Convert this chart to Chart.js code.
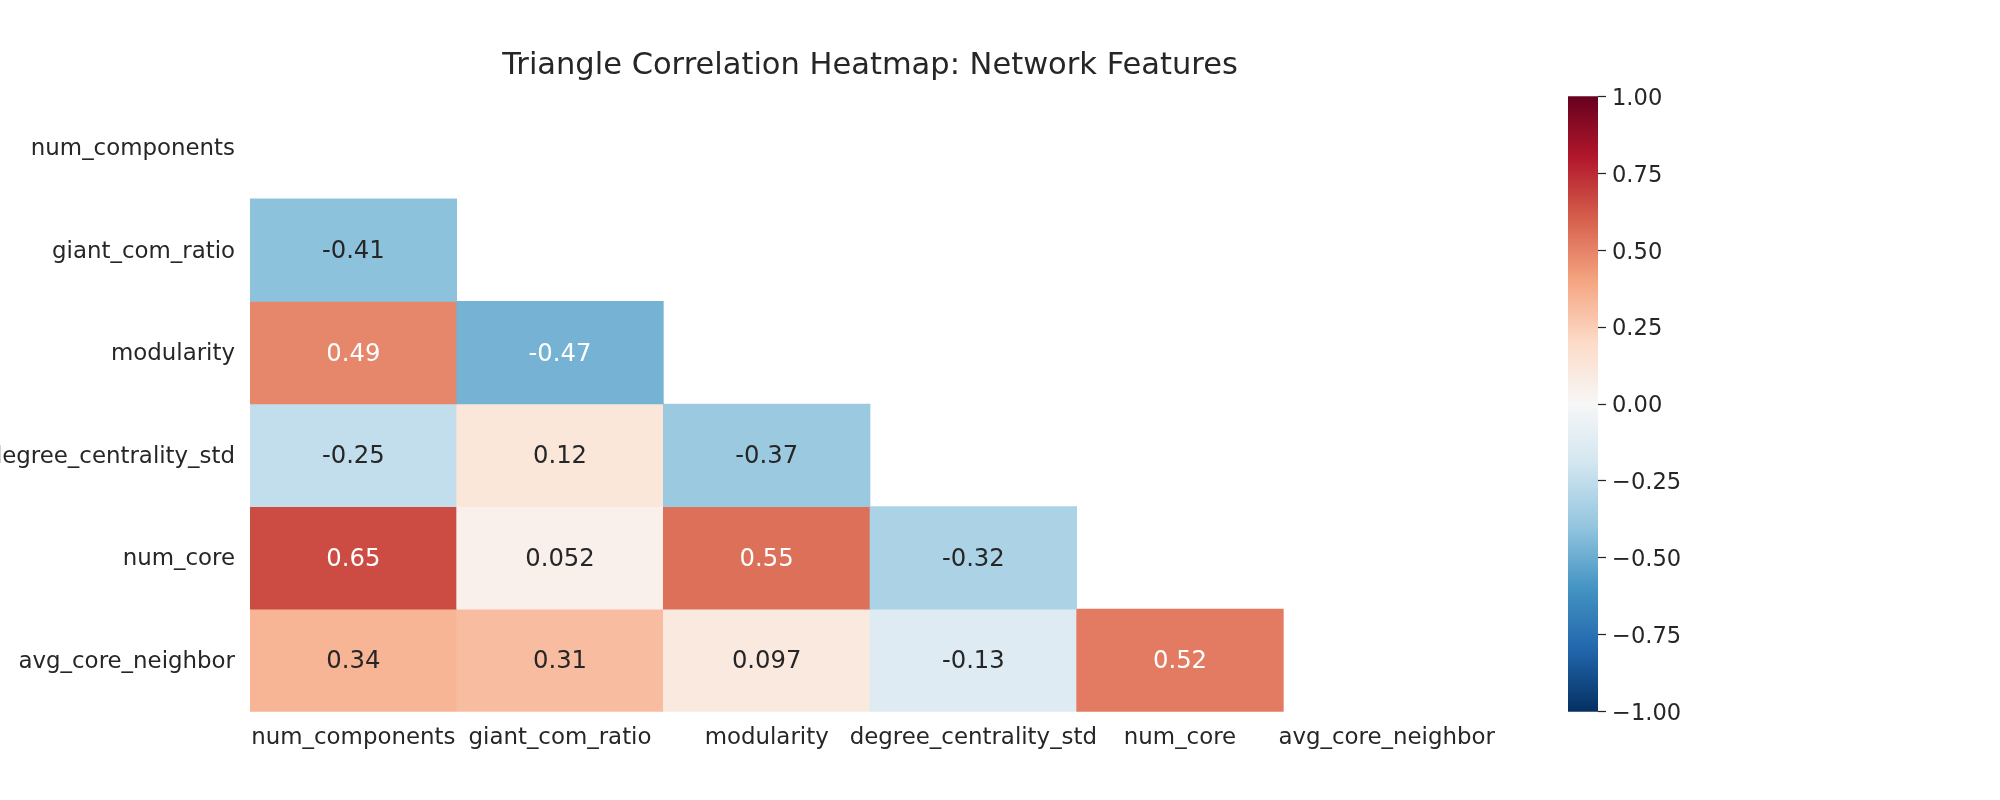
<!DOCTYPE html>
<html>
<head>
<meta charset="utf-8">
<script src="https://cdn.jsdelivr.net/npm/chart.js@4.4.1/dist/chart.umd.min.js"></script>
<style>
  body { margin: 0; background: #fff; }
  #wrap { position: relative; width: 2000px; height: 800px; }
  #heat { position: absolute; left: 0; top: 0; }
  #cbar { position: absolute; left: 1500px; top: 0; }
</style>
</head>
<body>
<div id="wrap">
  <canvas id="heat" width="2000" height="800"></canvas>
  <canvas id="cbar" width="300" height="800"></canvas>
</div>
<script>
// features, in the order of both axes
const features = ['num_components', 'giant_com_ratio', 'modularity', 'degree_centrality_std', 'num_core', 'avg_core_neighbor'];

// lower triangle of the correlation matrix, one row per feature
const rowNumComponents = [];
const rowGiantComRatio = [-0.41];
const rowModularity = [0.49, -0.47];
const rowDegreeCentralityStd = [-0.25, 0.12, -0.37];
const rowNumCore = [0.65, 0.052, 0.55, -0.32];
const rowAvgCoreNeighbor = [0.34, 0.31, 0.097, -0.13, 0.52];

const corrRows = [rowNumComponents, rowGiantComRatio, rowModularity, rowDegreeCentralityStd, rowNumCore, rowAvgCoreNeighbor];

// colorbar ticks
const cbarTicks = [-1, -0.75, -0.5, -0.25, 0, 0.25, 0.5, 0.75, 1];

const TEXT = '#262626';
const FONT = 'DejaVu Sans';

// RdBu_r, same anchor colours as matplotlib
const rdbuR = [
  [5, 48, 97], [33, 102, 172], [67, 147, 195], [146, 197, 222], [209, 229, 240],
  [247, 247, 247], [253, 219, 199], [244, 165, 130], [214, 96, 77], [178, 24, 43], [103, 0, 31]
];

function cmapAt(x) {
  const pos = x * 10
  const k = Math.min(9, Math.floor(pos))
  const f = pos - k
  const a = rdbuR[k], b = rdbuR[k + 1]
  return [0, 1, 2].map(c => a[c] + (b[c] - a[c]) * f)
}

// value in [-1, 1] -> colour, quantised to a 256 entry lut like matplotlib
function cmapRgb(v) {
  const t = (v + 1) / 2
  const idx = Math.max(0, Math.min(255, Math.floor(t * 256)))
  return cmapAt(idx / 255)
}

function rgbStr(c) {
  return 'rgb(' + c.map(Math.round).join(',') + ')'
}

function textColorFor(v) {
  const lin = cmapRgb(v).map(c => {
    c = c / 255
    return c <= 0.03928 ? c / 12.92 : Math.pow((c + 0.055) / 1.055, 2.4)
  })
  const lum = 0.2126 * lin[0] + 0.7152 * lin[1] + 0.0722 * lin[2]
  return lum > 0.408 ? TEXT : '#ffffff'
}

function fmt(v) {
  return String(Number(v.toPrecision(2)))
}

// one floating-bar dataset per row, bar j spans [i, i+1] on the row axis
const heatDatasets = corrRows.map((row, i) => ({
  label: features[i],
  data: features.map((f, j) => (j < row.length ? [i, i + 1] : null)),
  backgroundColor: features.map((f, j) => (j < row.length ? rgbStr(cmapRgb(row[j])) : 'rgba(0,0,0,0)')),
  borderWidth: 0,
  barPercentage: 1,
  categoryPercentage: 1,
  grouped: false
}));

const annotPlugin = {
  id: 'annot',
  afterDatasetsDraw(chart) {
    const ctx = chart.ctx
    ctx.save()
    ctx.font = '24.3px "' + FONT + '"'
    ctx.textAlign = 'center'
    ctx.textBaseline = 'middle'
    chart.data.datasets.forEach((ds, i) => {
      const meta = chart.getDatasetMeta(i)
      meta.data.forEach((bar, j) => {
        if (j >= corrRows[i].length) return
        const v = corrRows[i][j]
        ctx.fillStyle = textColorFor(v)
        ctx.fillText(fmt(v), bar.x, (bar.y + bar.base) / 2 + 1.5)
      })
    })
    ctx.restore()
  }
};

new Chart(document.getElementById('heat'), {
  type: 'bar',
  data: { labels: features, datasets: heatDatasets },
  plugins: [annotPlugin],
  options: {
    responsive: false,
    animation: false,
    layout: { padding: { left: 0, right: 510, top: 0, bottom: 0 } },
    plugins: {
      legend: { display: false },
      tooltip: { enabled: false },
      title: {
        display: true,
        text: 'Triangle Correlation Heatmap: Network Features',
        fullSize: false,
        color: TEXT,
        font: { family: FONT, size: 30.5, weight: 'normal', lineHeight: 1.2 },
        padding: { top: 47.5, bottom: 12.2 }
      }
    },
    scales: {
      x: {
        grid: { display: false, drawTicks: false },
        border: { display: false },
        ticks: { color: TEXT, font: { family: FONT, size: 22.9 }, padding: 13, maxRotation: 0, autoSkip: false },
        afterFit: s => { s.height = 88.3 }
      },
      y: {
        min: 0,
        max: 6,
        reverse: true,
        grid: { display: false, drawTicks: false },
        border: { display: false },
        afterBuildTicks: axis => { axis.ticks = features.map((f, i) => ({ value: i + 0.5 })) },
        ticks: {
          color: TEXT,
          font: { family: FONT, size: 22.9 },
          padding: 15,
          labelOffset: 1.5,
          autoSkip: false,
          callback: (v, i) => features[i]
        },
        afterFit: s => { s.width = 250 }
      }
    }
  }
});

// colorbar
new Chart(document.getElementById('cbar'), {
  type: 'bar',
  data: {
    labels: ['cbar'],
    datasets: [{
      data: [[-1, 1]],
      borderWidth: 0,
      barPercentage: 1,
      categoryPercentage: 1,
      backgroundColor: (c) => {
        const area = c.chart.chartArea
        if (!area) return null
        const g = c.chart.ctx.createLinearGradient(0, area.bottom, 0, area.top)
        for (let k = 0; k <= 50; k++) g.addColorStop(k / 50, rgbStr(cmapAt(k / 50)))
        return g
      }
    }]
  },
  options: {
    responsive: false,
    animation: false,
    layout: { padding: { left: 68, right: 102, top: 96.3, bottom: 88.3 } },
    plugins: { legend: { display: false }, tooltip: { enabled: false } },
    scales: {
      x: { display: false },
      y: {
        position: 'right',
        min: -1,
        max: 1,
        border: { display: false },
        grid: { drawOnChartArea: false, drawTicks: true, tickLength: 8, tickColor: TEXT, tickWidth: 1.25 },
        afterBuildTicks: axis => { axis.ticks = cbarTicks.map(v => ({ value: v })) },
        ticks: {
          color: TEXT,
          font: { family: FONT, size: 22.6 },
          padding: 6,
          labelOffset: 2.5,
          callback: v => (v < 0 ? '\u2212' : '') + Math.abs(v).toFixed(2)
        },
        afterFit: s => { s.width = 100 }
      }
    }
  }
});
</script>
</body>
</html>
